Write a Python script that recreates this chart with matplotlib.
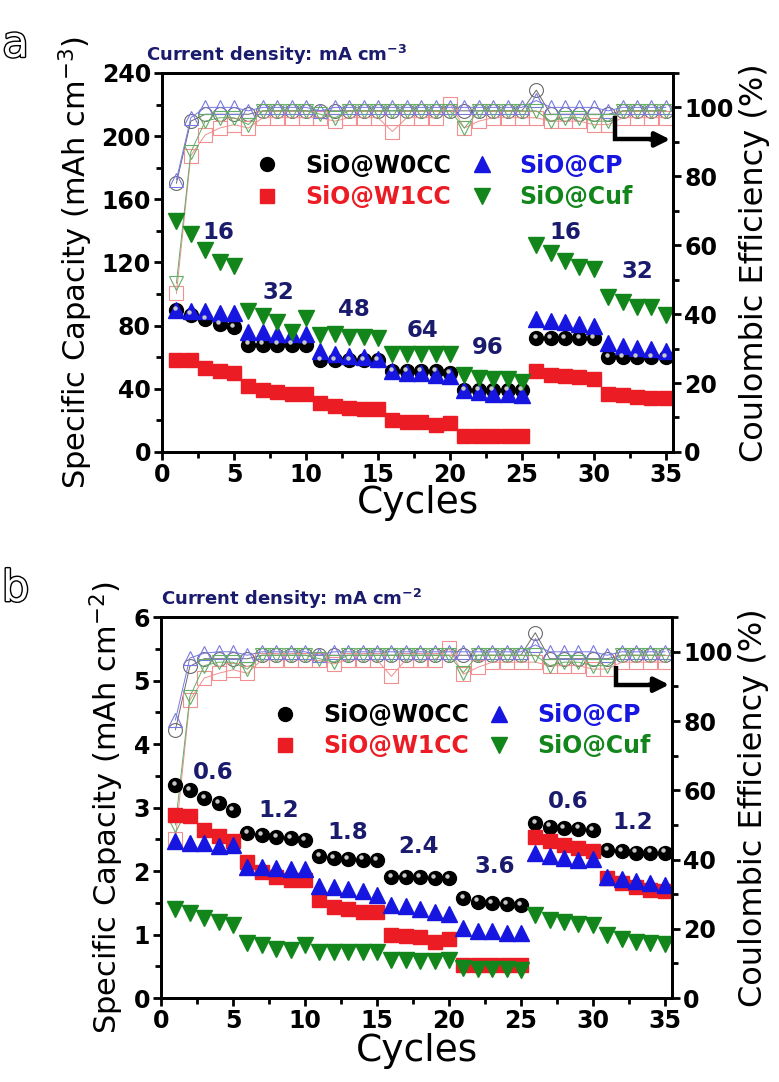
import numpy as np
import matplotlib.pyplot as plt
import matplotlib.transforms as mtransforms
import matplotlib.patheffects as pe
from matplotlib.ticker import MultipleLocator

plt.rcParams['font.family'] = 'DejaVu Sans'
plt.rcParams['mathtext.fontset'] = 'dejavusans'

cycles = np.arange(1, 36)
names = ["SiO@W0CC", "SiO@W1CC", "SiO@CP", "SiO@Cuf"]

# ---- panel a: volumetric capacity (mAh cm-3) ----
cap_w0cc_a = [90, 87, 84, 81, 79, 68, 68, 68, 68, 68, 58, 58, 58, 58, 58,
              51, 51, 51, 51, 50, 39, 39, 39, 39, 39, 72, 72, 72, 72, 72,
              60, 60, 60, 60, 60]
cap_w1cc_a = [58, 58, 53, 51, 50, 42, 39, 38, 37, 37, 31, 29, 28, 27, 27,
              20, 19, 19, 17, 18.5, 10, 10, 10, 10, 10, 51, 49, 48, 47.5, 46,
              37, 36, 35, 34, 34]
cap_cp_a = [90, 89, 89, 88, 88, 76, 76, 75, 75, 75, 64, 62, 61, 60, 59,
            51, 50, 50, 49, 48, 39, 38, 37, 37, 36, 84, 83, 82, 81, 80,
            69, 67, 66, 65, 64]
cap_cuf_a = [146, 138, 128, 120, 118, 89, 86, 82, 76, 85, 74, 75, 73, 73, 72,
             62, 62, 62, 62, 62, 49, 47, 46, 46, 44, 131, 126, 121, 117, 116,
             98, 95, 92, 92, 87]

ce_w0cc_a = [78, 96, 98, 98, 98, 98, 99, 99, 99, 99, 99, 99, 99, 99, 99,
             99, 99, 99, 99, 99, 99, 99, 99, 99, 99, 105, 98, 98, 98, 98,
             98, 99, 99, 99, 99]
ce_w1cc_a = [46, 86, 92, 94, 95, 94, 97, 97, 97, 97, 97, 96, 97, 97, 97,
             93, 97, 97, 97, 101, 94, 96, 97, 97, 97, 97, 96, 96, 96, 95,
             95, 97, 97, 97, 97]
ce_cp_a = [79, 97, 100, 100, 100, 99, 100, 100, 100, 100, 99, 100, 100, 100, 100,
           100, 100, 100, 100, 100, 100, 100, 100, 100, 100, 102, 100, 100, 100, 100,
           99, 100, 100, 100, 100]
ce_cuf_a = [49, 87, 96, 97, 97, 95, 99, 99, 99, 99, 98, 97, 99, 99, 99,
            99, 99, 99, 99, 99, 94, 99, 99, 99, 99, 99, 96, 97, 97, 96,
            96, 99, 99, 99, 99]

rates_a = ["16", "32", "48", "64", "96", "16", "32"]
rate_x_a = [3.9, 8.1, 13.3, 18.1, 22.6, 28.0, 33.0]
rate_y_a = [139, 101, 90, 77, 66, 139, 114]

# ---- panel b: areal capacity (mAh cm-2) ----
cap_w0cc_b = [3.36, 3.28, 3.15, 3.07, 2.96, 2.60, 2.57, 2.54, 2.52, 2.49,
              2.23, 2.21, 2.19, 2.18, 2.17, 1.91, 1.90, 1.90, 1.89, 1.89,
              1.58, 1.52, 1.50, 1.48, 1.47, 2.76, 2.70, 2.68, 2.67, 2.65,
              2.33, 2.31, 2.29, 2.29, 2.29]
cap_w1cc_b = [2.89, 2.87, 2.65, 2.56, 2.47, 2.15, 1.99, 1.91, 1.86, 1.86,
              1.55, 1.44, 1.40, 1.36, 1.36, 0.99, 0.97, 0.96, 0.88, 0.93,
              0.52, 0.52, 0.52, 0.52, 0.52, 2.54, 2.47, 2.41, 2.37, 2.32,
              1.89, 1.81, 1.75, 1.70, 1.68]
cap_cp_b = [2.47, 2.44, 2.44, 2.40, 2.41, 2.07, 2.06, 2.05, 2.03, 2.03,
            1.77, 1.75, 1.71, 1.68, 1.62, 1.47, 1.45, 1.40, 1.36, 1.32,
            1.10, 1.06, 1.05, 1.03, 1.02, 2.29, 2.24, 2.21, 2.18, 2.19,
            1.91, 1.87, 1.85, 1.82, 1.78]
cap_cuf_b = [1.41, 1.34, 1.26, 1.19, 1.15, 0.86, 0.84, 0.78, 0.76, 0.84,
             0.73, 0.72, 0.72, 0.72, 0.72, 0.60, 0.60, 0.58, 0.58, 0.60,
             0.47, 0.45, 0.45, 0.45, 0.44, 1.31, 1.23, 1.19, 1.17, 1.15,
             0.99, 0.93, 0.89, 0.87, 0.85]

ce_w0cc_b = [77.5, 95.8, 98, 98, 98, 98, 99, 99, 99, 99, 99, 99, 99, 99, 99,
             99, 99, 99, 99, 99, 99, 99, 99, 99, 99, 105.5, 98, 98, 98, 98,
             98, 99, 99, 99, 99]
ce_w1cc_b = [46, 86, 92.4, 93.8, 94.8, 93.8, 97.7, 97.7, 97.7, 97.7, 97.5, 96.5, 97.7, 97.7, 97.7,
             92.9, 97.7, 97.7, 97.7, 101, 93.5, 95.5, 97, 97, 97, 97, 96, 96, 96, 95,
             95, 97, 97, 97, 97]
ce_cp_b = [80.3, 98.2, 99.6, 100, 100, 99, 100, 100, 100, 100, 99, 100, 100, 100, 100,
           100, 100, 100, 100, 100, 100, 100, 100, 100, 100, 102, 100, 100, 100, 100,
           99, 100, 100, 100, 100]
ce_cuf_b = [50, 87, 96, 97, 97, 95, 99, 99, 99, 99, 98, 97, 99, 99, 99,
            99, 99, 99, 99, 99, 94, 99, 99, 99, 99, 99, 96, 97, 97, 96,
            96, 99, 99, 99, 99]

rates_b = ["0.6", "1.2", "1.8", "2.4", "3.6", "0.6", "1.2"]
rate_x_b = [3.6, 8.2, 13.0, 17.9, 23.2, 28.3, 32.8]
rate_y_b = [3.56, 2.96, 2.60, 2.38, 2.07, 3.09, 2.76]

NAVY = "#1b1b6e"
RED = "#ec1c24"
BLUE = "#1616e0"
GREEN = "#13861b"
markers = ["o", "s", "^", "v"]
fill_cols = ["black", RED, BLUE, GREEN]
ce_cols = ["#6a6a6a", "#f09090", "#7878e2", "#66ad66"]

fig = plt.figure(figsize=(7.79, 10.82), dpi=100)


def draw_panel(rect, caps, ces, ylim, ystep, ylabel, unit, rates, rx, ry,
               letter, leg_anchor, arrow, title_dx, xpad):
    ax = fig.add_axes(rect)
    ax2 = ax.twinx()
    ax.set_zorder(ax2.get_zorder() + 1)
    ax.patch.set_visible(False)

    # coulombic efficiency, hollow markers with thin lines
    for ce, m, c in zip(ces, markers, ce_cols):
        ax2.plot(cycles, ce, marker=m, mfc="none", mec=c, color=c,
                 lw=0.7, ms=10, mew=0.8)

    # capacities
    handles = []
    for cap, m, c, n in zip(caps, markers, fill_cols, names):
        ms = 10 if m in "os" else 11
        h, = ax.plot(cycles, cap, ls="none", marker=m, mfc=c, mec=c, ms=ms,
                     label=n)
        handles.append(h)
    # highlight on the black spheres
    hl = mtransforms.offset_copy(ax.transData, fig=fig, x=-1.2, y=1.6,
                                 units="points")
    ax.plot(cycles, caps[0], ls="none", marker="o", ms=3.2, mfc="#c8c8c8",
            mec="none", transform=hl)

    for t, x, y in zip(rates, rx, ry):
        ax.text(x, y, t, color=NAVY, fontsize=16.5, fontweight="bold",
                ha="center", va="center")

    ax.set_xlim(0, 35.5)
    ax.set_ylim(*ylim)
    ax2.set_ylim(0, 110)
    ax.xaxis.set_major_locator(MultipleLocator(5))
    ax.xaxis.set_minor_locator(MultipleLocator(2.5))
    ax.yaxis.set_major_locator(MultipleLocator(ystep))
    ax.yaxis.set_minor_locator(MultipleLocator(ystep / 2))
    ax2.yaxis.set_major_locator(MultipleLocator(20))
    ax2.yaxis.set_minor_locator(MultipleLocator(10))

    for a in (ax, ax2):
        for s in a.spines.values():
            s.set_linewidth(2)
        a.tick_params(which="major", length=6, width=2, labelsize=17,
                      direction="out", pad=2)
        a.tick_params(which="minor", length=4, width=2, direction="out")
        for lbl in a.get_xticklabels() + a.get_yticklabels():
            lbl.set_fontweight("bold")
    ax.tick_params(axis="x", which="both", top=False)
    ax.tick_params(axis="y", which="both", right=False)

    ax.set_xlabel("Cycles", fontsize=27, labelpad=xpad)
    ax.set_ylabel(ylabel, fontsize=22, labelpad=5)
    ax2.set_ylabel("Coulombic Efficiency (%)", fontsize=23, labelpad=4)

    leg = ax2.legend(handles, names, ncol=2, loc="upper left",
                     bbox_to_anchor=leg_anchor, frameon=False,
                     prop={"weight": "bold", "size": 17},
                     handletextpad=1.0, columnspacing=0.7,
                     labelspacing=0.3, borderpad=0, handlelength=1.2)
    for txt, c in zip(leg.get_texts(), fill_cols):
        txt.set_color(c)

    # bent arrow pointing to the right axis
    x0, y0, y1, x1 = arrow
    ax2.plot([x0, x0, x1 - 1.0], [y0, y1, y1], color="black", lw=3.2,
             solid_joinstyle="miter", solid_capstyle="butt")
    ax2.annotate("", xy=(x1, y1), xytext=(x1 - 1.4, y1),
                 arrowprops=dict(arrowstyle="-|>", color="black", lw=3.2,
                                 mutation_scale=22, shrinkA=0, shrinkB=0))

    # title line and panel letter
    fig.text(rect[0] + title_dx, rect[1] + rect[3] + 0.017,
             r"Current density: mA cm$^{\mathbf{" + unit + "}}$",
             color=NAVY, fontsize=13, fontweight="bold", va="center")
    fig.text(0.02, rect[1] + rect[3] + 0.026, letter, fontsize=31,
             color="white", va="center", ha="center",
             path_effects=[pe.withStroke(linewidth=2, foreground="black")])
    return ax, ax2


draw_panel([0.208, 0.5823, 0.656, 0.3503],
           [cap_w0cc_a, cap_w1cc_a, cap_cp_a, cap_cuf_a],
           [ce_w0cc_a, ce_w1cc_a, ce_cp_a, ce_cuf_a],
           (0, 240), 40, r"Specific Capacity (mAh cm$^{-3}$)", "-3",
           rates_a, rate_x_a, rate_y_a, "a", (0.155, 0.818),
           (31.5, 97.5, 90.7, 35.3), -0.02, -1.5)

draw_panel([0.2067, 0.0776, 0.656, 0.352],
           [cap_w0cc_b, cap_w1cc_b, cap_cp_b, cap_cuf_b],
           [ce_w0cc_b, ce_w1cc_b, ce_cp_b, ce_cuf_b],
           (0, 6), 1, r"Specific Capacity (mAh cm$^{-2}$)", "-2",
           rates_b, rate_x_b, rate_y_b, "b", (0.192, 0.806),
           (31.6, 96, 90.5, 35.3), 0.0, 0)

fig.savefig("out.png", dpi=100)
